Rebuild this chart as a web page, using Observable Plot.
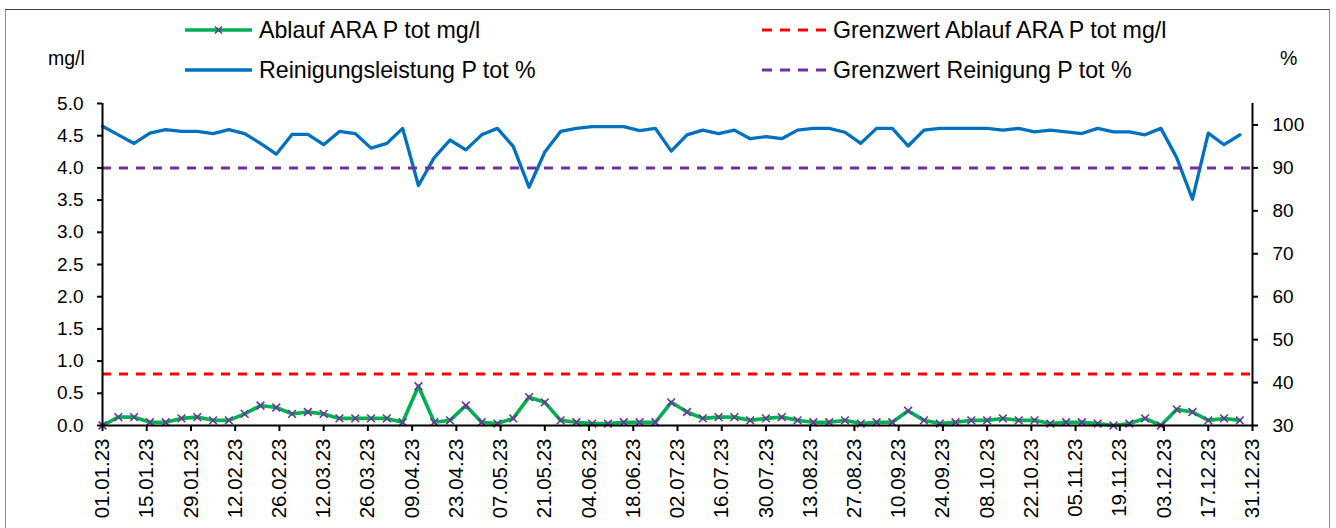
<!DOCTYPE html>
<html>
<head>
<meta charset="utf-8">
<script src="https://cdn.jsdelivr.net/npm/d3@7"></script>
<script src="https://cdn.jsdelivr.net/npm/@observablehq/plot@0.6"></script>
<style>
  body { margin: 0; background: #fff; font-family: "Liberation Sans", Arial, sans-serif; color: #000; }
  #wrap { position: relative; width: 1336px; height: 528px; overflow: hidden; background: #fff; }
  #frame { position: absolute; left: 5px; top: 9px; width: 1323px; height: 640px; border: 1.5px solid #8c8c8c; border-top: 1.5px solid #404040; pointer-events: none; }
  #head { position: relative; height: 93px; }
  .item { position: absolute; height: 30px; display: flex; align-items: center; white-space: nowrap; font-size: 23.2px; }
  .item svg { margin-right: 7px; overflow: visible; }
  .unit { position: absolute; font-size: 19.5px; white-space: nowrap; }
  #chart svg { display: block; overflow: visible; }
</style>
</head>
<body>
<div id="wrap">
  <div id="head"></div>
  <div id="chart"></div>
  <div id="frame"></div>
</div>
<script>
// ---------- data ----------
const dates = [
  "01.01.23","06.01.23","11.01.23","16.01.23","21.01.23","26.01.23","31.01.23",
  "05.02.23","10.02.23","15.02.23","20.02.23","25.02.23",
  "02.03.23","07.03.23","12.03.23","17.03.23","22.03.23","27.03.23",
  "01.04.23","06.04.23","11.04.23","16.04.23","21.04.23","26.04.23",
  "01.05.23","06.05.23","11.05.23","16.05.23","21.05.23","26.05.23","31.05.23",
  "05.06.23","10.06.23","15.06.23","20.06.23","25.06.23","30.06.23",
  "05.07.23","10.07.23","15.07.23","20.07.23","25.07.23","30.07.23",
  "04.08.23","09.08.23","14.08.23","19.08.23","24.08.23","29.08.23",
  "03.09.23","08.09.23","13.09.23","18.09.23","23.09.23","28.09.23",
  "03.10.23","08.10.23","13.10.23","18.10.23","23.10.23","28.10.23",
  "02.11.23","07.11.23","12.11.23","17.11.23","22.11.23","27.11.23",
  "02.12.23","07.12.23","12.12.23","17.12.23","22.12.23","27.12.23"
];
// Ablauf ARA P tot mg/l
const ablaufMg = [
  0.00,0.13,0.13,0.05,0.05,0.11,0.13,0.08,0.08,0.18,0.31,0.28,0.18,0.21,0.18,0.11,0.11,0.11,0.11,0.05,0.61,0.05,0.08,
  0.31,0.05,0.03,0.11,0.44,0.36,0.08,0.05,0.03,0.03,0.05,0.05,0.05,0.36,0.21,0.11,0.13,0.13,0.08,0.11,0.13,0.08,0.05,0.05,0.08,0.03,0.05,0.05,
  0.23,0.08,0.03,0.05,0.08,0.08,0.11,0.08,0.08,0.03,0.05,0.05,0.03,0.00,0.03,0.11,0.00,0.25,0.21,0.08,0.11,0.08
];
// Reinigungsleistung P tot %
const reinigungPct = [
  99.7,97.7,95.7,98.1,98.9,98.5,98.5,98.0,98.9,98.0,95.7,93.2,97.8,97.8,95.4,98.5,98.0,94.6,95.7,99.2,85.9,92.4,96.5,
  94.2,97.7,99.2,95.0,85.5,93.7,98.5,99.2,99.6,99.6,99.6,98.7,99.2,93.9,97.7,98.8,98.0,98.8,96.8,97.3,96.8,98.8,99.2,99.2,98.3,95.7,99.2,99.2,
  95.1,98.8,99.2,99.2,99.2,99.2,98.8,99.2,98.4,98.8,98.4,98.0,99.2,98.4,98.4,97.7,99.2,92.4,82.7,98.1,95.4,97.7
];
const grenzwertMg = 0.8;
const grenzwertPct = 90;
const xTickLabels = [
  "01.01.23","15.01.23","29.01.23","12.02.23","26.02.23","12.03.23","26.03.23","09.04.23","23.04.23",
  "07.05.23","21.05.23","04.06.23","18.06.23","02.07.23","16.07.23","30.07.23","13.08.23","27.08.23",
  "10.09.23","24.09.23","08.10.23","22.10.23","05.11.23","19.11.23","03.12.23","17.12.23","31.12.23"
];
const mgTicks = [0,0.5,1,1.5,2,2.5,3,3.5,4,4.5,5];
const pctTicks = [30,40,50,60,70,80,90,100];
const mgDomain = [0, 5];
const pctDomain = [30, 105];
const legendLabels = ["Ablauf ARA P tot mg/l","Reinigungsleistung P tot %","Grenzwert Ablauf ARA P tot mg/l","Grenzwert Reinigung P tot %"];
const leftUnit = "mg/l", rightUnit = "%";

// ---------- colors ----------
const cGreen = "#00B050", cBlue = "#0070C0", cRed = "#FF0000", cPurple = "#7030A0";

// ---------- helpers ----------
const parse = d3.utcParse("%d.%m.%y");
const fmt = d3.utcFormat("%d.%m.%y");
const pctToMg = p => mgDomain[0] + (p - pctDomain[0]) / (pctDomain[1] - pctDomain[0]) * (mgDomain[1] - mgDomain[0]);
const mgToPct = v => pctDomain[0] + (v - mgDomain[0]) / (mgDomain[1] - mgDomain[0]) * (pctDomain[1] - pctDomain[0]);

const rows = dates.map((d, i) => ({date: parse(d), mg: ablaufMg[i], pct: reinigungPct[i]}));
const tickDates = xTickLabels.map(parse);
const xStart = tickDates[0], xEnd = tickDates[tickDates.length - 1];

// ---------- header (legend + units) ----------
const head = document.getElementById("head");
function swatch(type, color, w) {
  let s = `<svg width="${w}" height="10" viewBox="0 0 ${w} 10">`;
  if (type === "solid") s += `<line x1="0" y1="5" x2="${w}" y2="5" stroke="${color}" stroke-width="3.5"/>`;
  if (type === "marker") {
    s += `<line x1="0" y1="5" x2="${w}" y2="5" stroke="${color}" stroke-width="3.5"/>`;
    const c = w / 2;
    s += `<path d="M${c-3.5},1.5L${c+3.5},8.5M${c+3.5},1.5L${c-3.5},8.5" stroke="${cPurple}" stroke-width="1.6"/>`;
  }
  if (type === "dash") s += `<line x1="0" y1="5" x2="${w}" y2="5" stroke="${color}" stroke-width="3" stroke-dasharray="10,8"/>`;
  return s + "</svg>";
}
const items = [
  {label: legendLabels[0], type: "marker", color: cGreen, x: 185, y: 30, w: 67},
  {label: legendLabels[1], type: "solid", color: cBlue, x: 185, y: 70, w: 67},
  {label: legendLabels[2], type: "dash", color: cRed, x: 762, y: 30, w: 64},
  {label: legendLabels[3], type: "dash", color: cPurple, x: 762, y: 70, w: 64}
];
for (const it of items) {
  const div = document.createElement("div");
  div.className = "item";
  div.style.left = it.x + "px";
  div.style.top = (it.y - 15) + "px";
  div.innerHTML = swatch(it.type, it.color, it.w) + `<span>${it.label}</span>`;
  head.appendChild(div);
}
const ul = document.createElement("div");
ul.className = "unit"; ul.style.left = "48px"; ul.style.top = "47px"; ul.textContent = leftUnit;
head.appendChild(ul);
const ur = document.createElement("div");
ur.className = "unit"; ur.style.left = "1280px"; ur.style.top = "47px"; ur.textContent = rightUnit;
head.appendChild(ur);

// ---------- chart ----------
const chart = Plot.plot({
  width: 1336,
  height: 435,
  marginTop: 10,
  marginBottom: 103,
  marginLeft: 102,
  marginRight: 84,
  style: {fontFamily: '"Liberation Sans", Arial, sans-serif', fontSize: "19px", color: "#000", background: "transparent", overflow: "visible"},
  x: {type: "utc", domain: [xStart, xEnd]},
  y: {domain: mgDomain},
  marks: [
    Plot.line(rows, {x: "date", y: d => pctToMg(d.pct), stroke: cBlue, strokeWidth: 3.3, strokeLinejoin: "round"}),
    Plot.line(rows, {x: "date", y: "mg", stroke: cGreen, strokeWidth: 3.6, strokeLinejoin: "round"}),
    Plot.dot(rows, {x: "date", y: "mg", symbol: "times", r: 3.6, stroke: cPurple, strokeWidth: 1.6}),
    Plot.ruleY([grenzwertMg], {stroke: cRed, strokeWidth: 3, strokeDasharray: "9,8"}),
    Plot.ruleY([pctToMg(grenzwertPct)], {stroke: cPurple, strokeWidth: 3, strokeDasharray: "9,8"}),
    Plot.axisY({anchor: "left", ticks: mgTicks, tickFormat: d => d.toFixed(1), tickSize: 5, tickPadding: 14, strokeWidth: 2, label: null, fontSize: 19}),
    Plot.axisY({anchor: "right", ticks: pctTicks.map(pctToMg), tickFormat: d => String(Math.round(mgToPct(d))), tickSize: 5, tickPadding: 15, strokeWidth: 2, label: null, fontSize: 19}),
    Plot.axisX({ticks: tickDates, tickFormat: fmt, tickRotate: -90, tickSize: 6, tickPadding: 7, strokeWidth: 2, label: null, fontSize: 20.5}),
    Plot.ruleX([xStart], {y1: mgDomain[0], y2: mgDomain[1], stroke: "#000", strokeWidth: 2}),
    Plot.ruleX([xEnd], {y1: mgDomain[0], y2: mgDomain[1], stroke: "#000", strokeWidth: 2}),
    Plot.ruleY([mgDomain[0]], {stroke: "#000", strokeWidth: 2})
  ]
});
document.getElementById("chart").appendChild(chart);
</script>
</body>
</html>
